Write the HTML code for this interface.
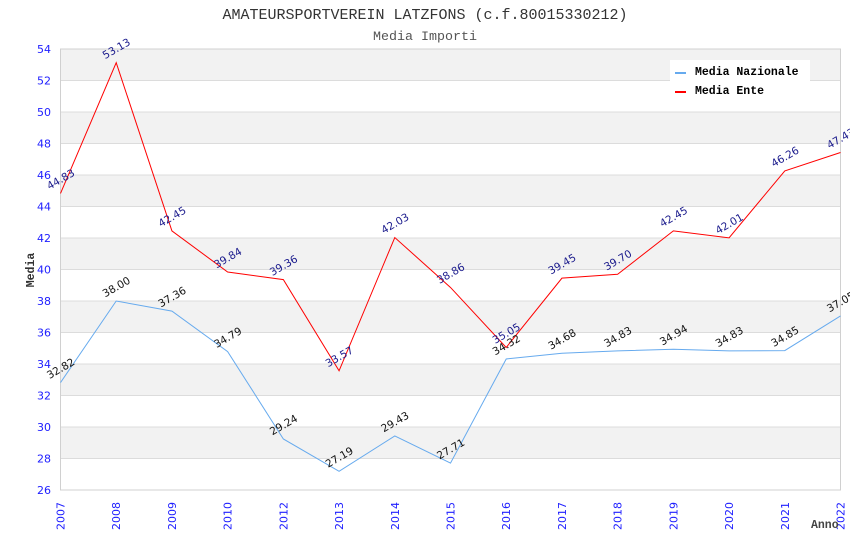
<!DOCTYPE html>
<html><head><meta charset="utf-8"><style>
html,body{margin:0;padding:0;background:#fff;}
svg{display:block;}
.yl{font-family:"DejaVu Sans","Liberation Sans",sans-serif;font-size:11px;fill:#2020ff;}
.dl{font-family:"DejaVu Sans","Liberation Sans",sans-serif;font-size:10.5px;}
.mono{font-family:"Liberation Mono","DejaVu Sans Mono",monospace;}
</style></head><body>
<svg width="850" height="550" viewBox="0 0 850 550" xmlns="http://www.w3.org/2000/svg">
<rect width="850" height="550" fill="#fff"/>
<text x="425" y="19" text-anchor="middle" class="mono" font-size="14.5" fill="#333" textLength="405" lengthAdjust="spacingAndGlyphs">AMATEURSPORTVEREIN LATZFONS (c.f.80015330212)</text>
<text x="425" y="40" text-anchor="middle" class="mono" font-size="13" fill="#555" textLength="104" lengthAdjust="spacingAndGlyphs">Media Importi</text>
<!-- bands -->
<g fill="#f2f2f2">
<rect x="60.5" y="49" width="780" height="31.5"/>
<rect x="60.5" y="112" width="780" height="31.5"/>
<rect x="60.5" y="175" width="780" height="31.5"/>
<rect x="60.5" y="238" width="780" height="31.5"/>
<rect x="60.5" y="301" width="780" height="31.5"/>
<rect x="60.5" y="364" width="780" height="31.5"/>
<rect x="60.5" y="427" width="780" height="31.5"/>
</g>
<g stroke="#dcdcdc" stroke-width="1">
<line x1="60.5" x2="840.5" y1="80.5" y2="80.5"/>
<line x1="60.5" x2="840.5" y1="112" y2="112"/>
<line x1="60.5" x2="840.5" y1="143.5" y2="143.5"/>
<line x1="60.5" x2="840.5" y1="175" y2="175"/>
<line x1="60.5" x2="840.5" y1="206.5" y2="206.5"/>
<line x1="60.5" x2="840.5" y1="238" y2="238"/>
<line x1="60.5" x2="840.5" y1="269.5" y2="269.5"/>
<line x1="60.5" x2="840.5" y1="301" y2="301"/>
<line x1="60.5" x2="840.5" y1="332.5" y2="332.5"/>
<line x1="60.5" x2="840.5" y1="364" y2="364"/>
<line x1="60.5" x2="840.5" y1="395.5" y2="395.5"/>
<line x1="60.5" x2="840.5" y1="427" y2="427"/>
<line x1="60.5" x2="840.5" y1="458.5" y2="458.5"/>
</g>
<rect x="60.5" y="49" width="780" height="441" fill="none" stroke="#d0d0d0" stroke-width="1"/>
<!-- y labels -->
<g class="yl" text-anchor="end">
<text x="51" y="53">54</text>
<text x="51" y="84.5">52</text>
<text x="51" y="116">50</text>
<text x="51" y="147.5">48</text>
<text x="51" y="179">46</text>
<text x="51" y="210.5">44</text>
<text x="51" y="242">42</text>
<text x="51" y="273.5">40</text>
<text x="51" y="305">38</text>
<text x="51" y="336.5">36</text>
<text x="51" y="368">34</text>
<text x="51" y="399.5">32</text>
<text x="51" y="431">30</text>
<text x="51" y="462.5">28</text>
<text x="51" y="494">26</text>
</g>
<!-- x labels -->
<g class="yl" text-anchor="end">
<text transform="translate(64.5,502) rotate(-90)">2007</text>
<text transform="translate(120.2,502) rotate(-90)">2008</text>
<text transform="translate(175.9,502) rotate(-90)">2009</text>
<text transform="translate(231.6,502) rotate(-90)">2010</text>
<text transform="translate(287.4,502) rotate(-90)">2012</text>
<text transform="translate(343.1,502) rotate(-90)">2013</text>
<text transform="translate(398.8,502) rotate(-90)">2014</text>
<text transform="translate(454.5,502) rotate(-90)">2015</text>
<text transform="translate(510.2,502) rotate(-90)">2016</text>
<text transform="translate(565.9,502) rotate(-90)">2017</text>
<text transform="translate(621.6,502) rotate(-90)">2018</text>
<text transform="translate(677.4,502) rotate(-90)">2019</text>
<text transform="translate(733.1,502) rotate(-90)">2020</text>
<text transform="translate(788.8,502) rotate(-90)">2021</text>
<text transform="translate(844.5,502) rotate(-90)">2022</text>
</g>
<text x="811" y="528" class="mono" font-size="11.5" font-weight="bold" fill="#444">Anno</text>
<text transform="translate(34,270) rotate(-90)" text-anchor="middle" class="mono" font-size="11.5" font-weight="bold" fill="#333">Media</text>
<!-- series -->
<polyline fill="none" stroke="#66aaee" stroke-width="1" points="60.5,382.59 116.21,301 171.93,311.08 227.64,351.56 283.36,438.97 339.07,471.26 394.79,435.98 450.5,463.07 506.21,358.96 561.93,353.29 617.64,350.93 673.36,349.2 729.07,350.93 784.79,350.61 840.5,315.96"/>
<polyline fill="none" stroke="#ff0000" stroke-width="1" points="60.5,193.43 116.21,62.7 171.93,230.91 227.64,272.02 283.36,279.58 339.07,370.77 394.79,237.53 450.5,287.46 506.21,347.46 561.93,278.16 617.64,274.23 673.36,230.91 729.07,237.84 784.79,170.9 840.5,152.48"/>
<!-- nazionale labels -->
<g class="dl" fill="#111" text-anchor="middle">
<text transform="translate(62.5,371.6) rotate(-30)">32.82</text>
<text transform="translate(118.2,290) rotate(-30)">38.00</text>
<text transform="translate(173.9,300.1) rotate(-30)">37.36</text>
<text transform="translate(229.6,340.6) rotate(-30)">34.79</text>
<text transform="translate(285.4,428) rotate(-30)">29.24</text>
<text transform="translate(341.1,460.3) rotate(-30)">27.19</text>
<text transform="translate(396.8,425) rotate(-30)">29.43</text>
<text transform="translate(452.5,452.1) rotate(-30)">27.71</text>
<text transform="translate(508.2,348) rotate(-30)">34.32</text>
<text transform="translate(563.9,342.3) rotate(-30)">34.68</text>
<text transform="translate(619.6,339.9) rotate(-30)">34.83</text>
<text transform="translate(675.4,338.2) rotate(-30)">34.94</text>
<text transform="translate(731.1,339.9) rotate(-30)">34.83</text>
<text transform="translate(786.8,339.6) rotate(-30)">34.85</text>
<text transform="translate(842.5,305) rotate(-30)">37.05</text>
</g>
<!-- ente labels -->
<g class="dl" fill="#1a1a8c" text-anchor="middle">
<text transform="translate(62.5,182.4) rotate(-30)">44.83</text>
<text transform="translate(118.2,51.7) rotate(-30)">53.13</text>
<text transform="translate(173.9,219.9) rotate(-30)">42.45</text>
<text transform="translate(229.6,261) rotate(-30)">39.84</text>
<text transform="translate(285.4,268.6) rotate(-30)">39.36</text>
<text transform="translate(341.1,359.8) rotate(-30)">33.57</text>
<text transform="translate(396.8,226.5) rotate(-30)">42.03</text>
<text transform="translate(452.5,276.5) rotate(-30)">38.86</text>
<text transform="translate(508.2,336.5) rotate(-30)">35.05</text>
<text transform="translate(563.9,267.2) rotate(-30)">39.45</text>
<text transform="translate(619.6,263.2) rotate(-30)">39.70</text>
<text transform="translate(675.4,219.9) rotate(-30)">42.45</text>
<text transform="translate(731.1,226.8) rotate(-30)">42.01</text>
<text transform="translate(786.8,159.9) rotate(-30)">46.26</text>
<text transform="translate(842.5,141.5) rotate(-30)">47.43</text>
</g>
<!-- legend -->
<rect x="670" y="60" width="140" height="42" fill="#fff"/>
<line x1="675" x2="686" y1="73" y2="73" stroke="#66aaee" stroke-width="2"/>
<line x1="675" x2="686" y1="92" y2="92" stroke="#ff0000" stroke-width="2"/>
<text x="695" y="75" class="mono" font-size="11.5" font-weight="bold" fill="#000">Media Nazionale</text>
<text x="695" y="94" class="mono" font-size="11.5" font-weight="bold" fill="#000">Media Ente</text>
</svg>
</body></html>
